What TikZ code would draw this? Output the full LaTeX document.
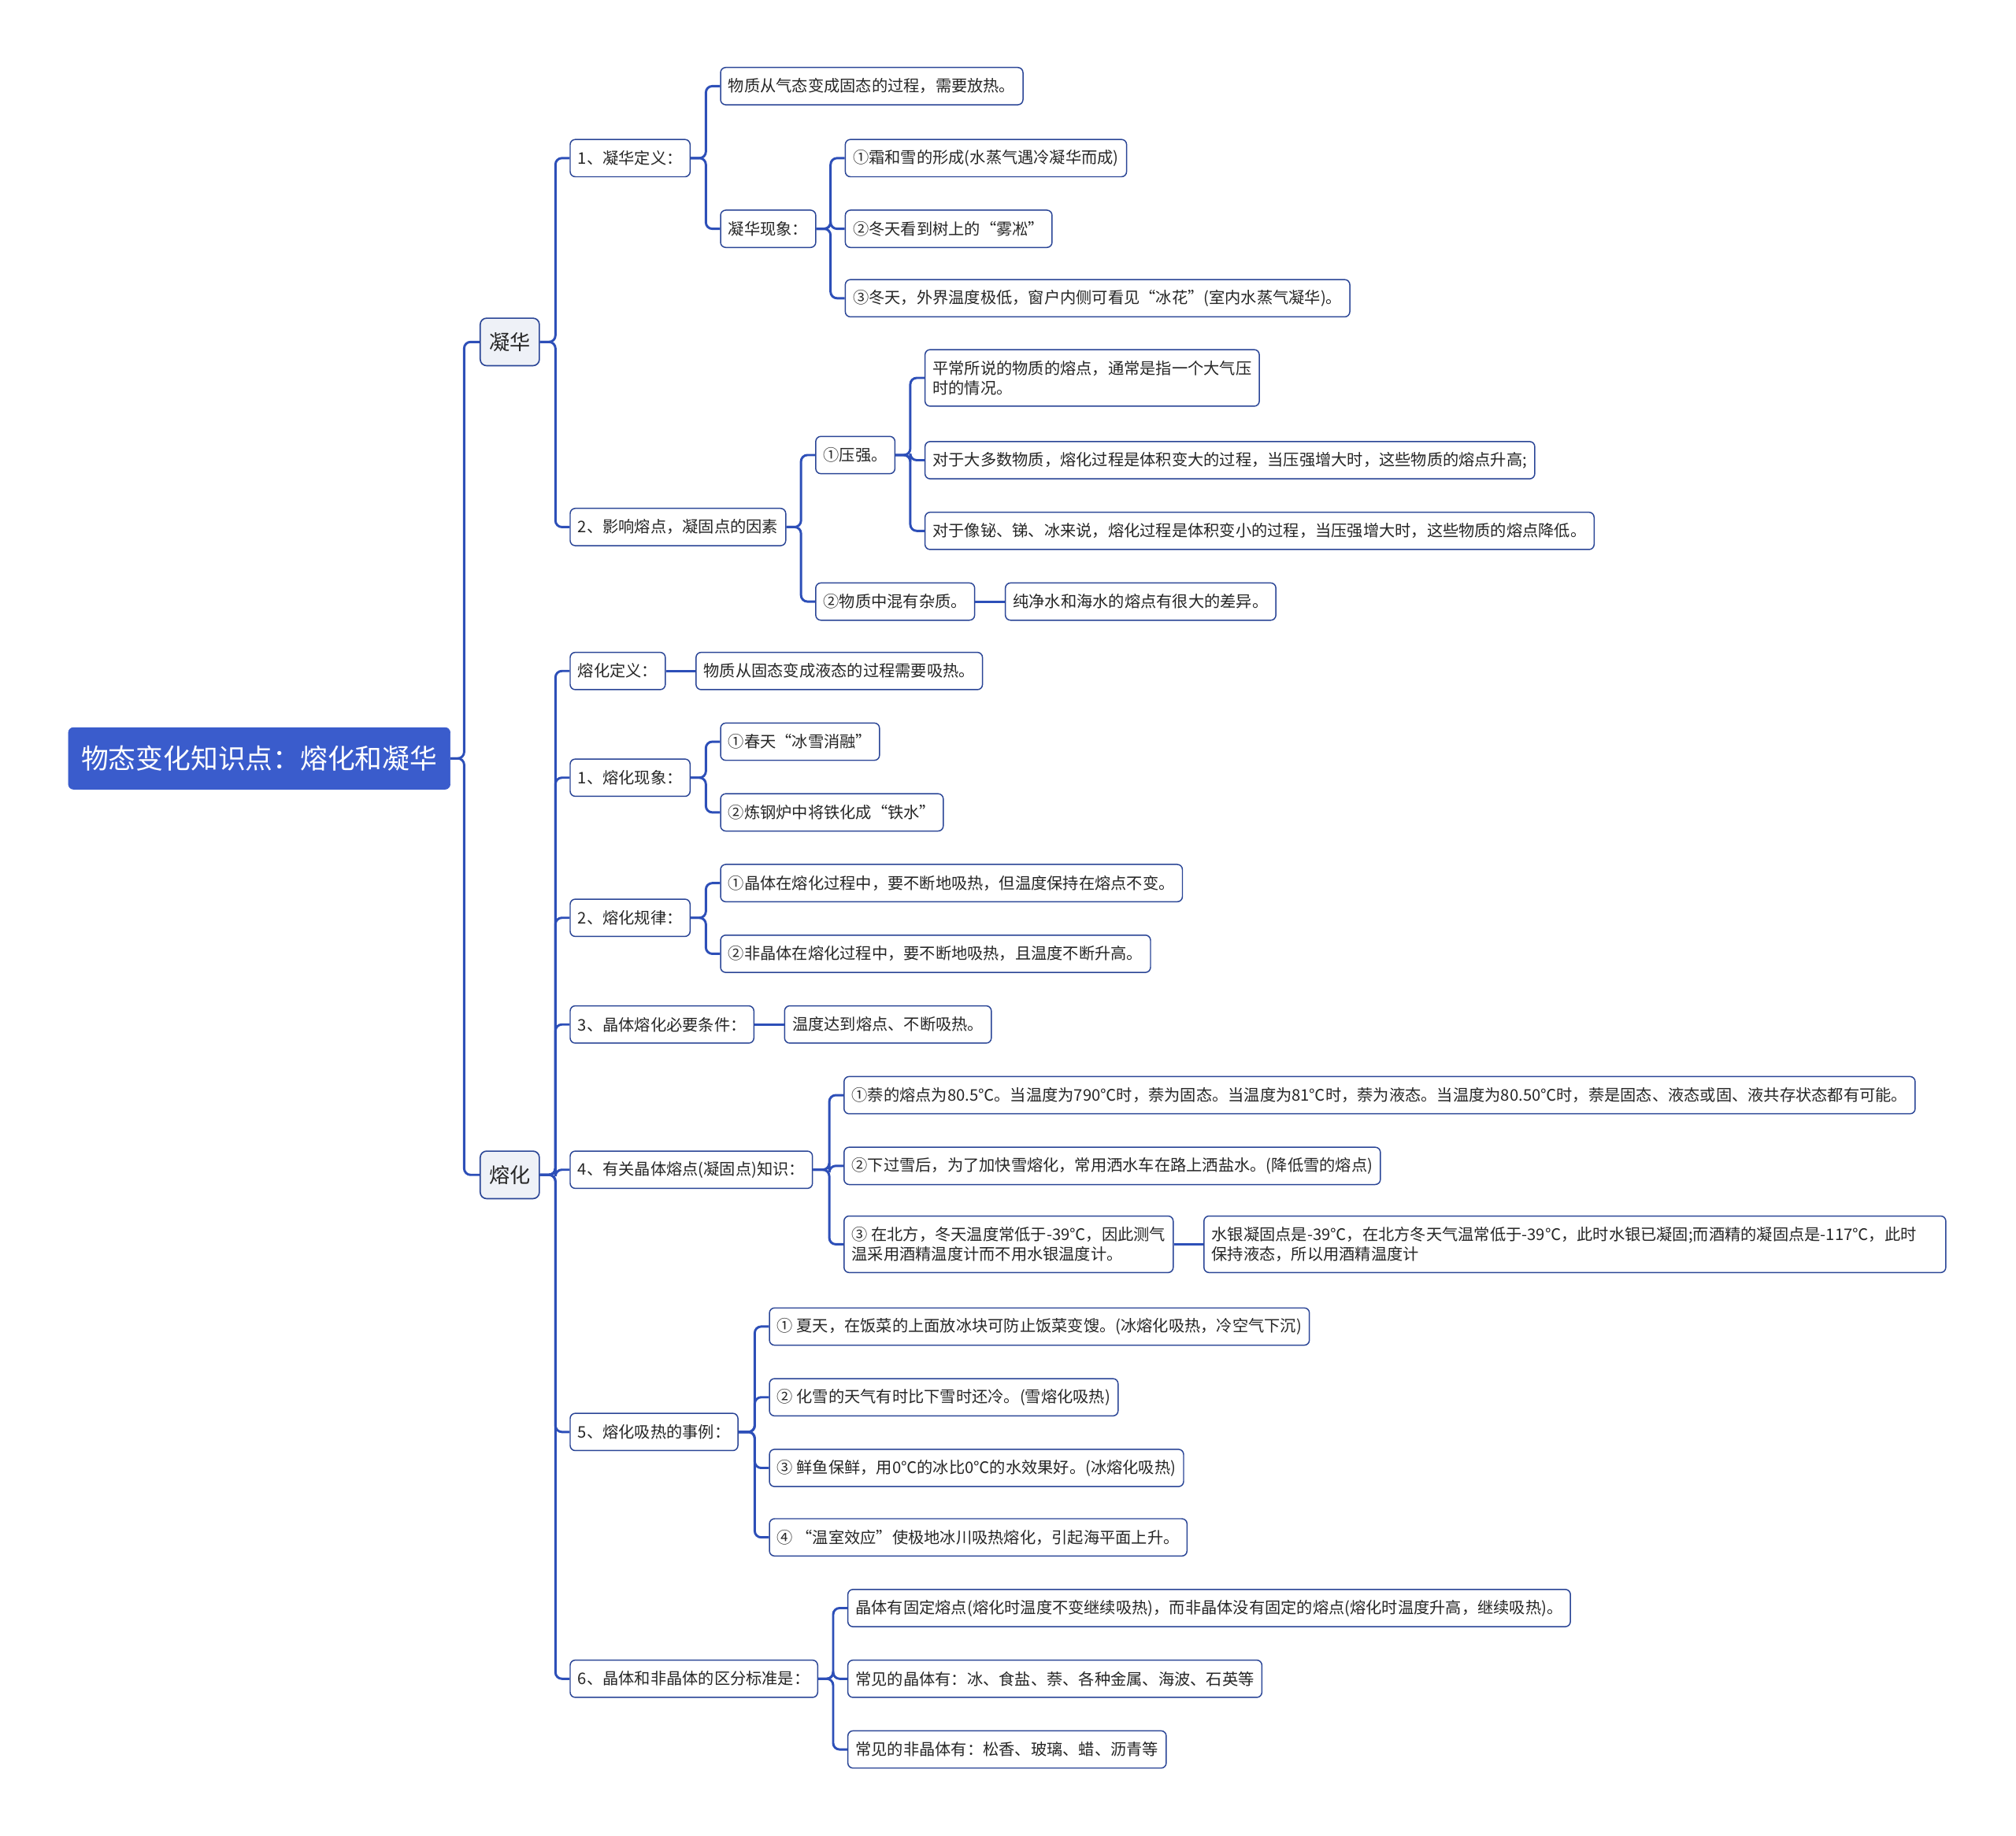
\documentclass[tikz,border=0pt]{standalone}
\usepackage{fontspec}
\usepackage{tikz}
\usetikzlibrary{positioning}
\newfontfamily\cjk{Noto Sans CJK SC}

\definecolor{rootblue}{HTML}{3A5CCC}
\definecolor{linkblue}{HTML}{2D4FB8}
\definecolor{boxline}{HTML}{2A4596}
\definecolor{topicfill}{HTML}{EEF1F7}

\begin{document}
\begin{tikzpicture}[
  x=1pt, y=1pt, node distance=23pt, text=black!85,
  root/.style={draw=rootblue, fill=rootblue, text=white, rounded corners=4pt, anchor=west,
    font=\cjk\fontsize{21.3}{25}\selectfont, minimum height=48pt, inner xsep=10pt},
  topic/.style={draw=boxline, fill=topicfill, line width=1pt, rounded corners=5pt, anchor=west,
    font=\cjk\fontsize{16}{19}\selectfont, minimum height=37pt, inner xsep=7pt},
  leaf/.style={draw=boxline, fill=white, line width=0.9pt, rounded corners=4pt, anchor=west, align=left,
    font=\cjk\fontsize{12.4}{15.5}\selectfont, minimum height=29pt, inner xsep=6pt},
  twoline/.style={leaf, minimum height=44pt},
  link/.style={draw=linkblue, line width=1.8pt, rounded corners=5pt}
]
  \useasboundingbox (0,0) rectangle (1568,-1428);

  % root and the two main branches
  \node[root] (root) at (53,-590) {物态变化知识点：熔化和凝华};
  \node[topic] (ninghua) at (373,-266) {凝华};
  \node[topic] (ronghua) at (373,-914) {熔化};

  % 凝华
  \node[leaf] (nhdef) at (443,-123) {1、凝华定义：};
  \node[leaf] (nhfactor) at (443,-410) {2、影响熔点，凝固点的因素};
  \node[leaf] (nhdeftext) at (560,-67) {物质从气态变成固态的过程，需要放热。};
  \node[leaf] (nhphen) at (560,-178) {凝华现象：};
  \node[leaf] (nhp1) at (657,-123) {①霜和雪的形成(水蒸气遇冷凝华而成)};
  \node[leaf] (nhp2) at (657,-178) {②冬天看到树上的“雾凇”};
  \node[leaf] (nhp3) at (657,-232) {③冬天，外界温度极低，窗户内侧可看见“冰花”(室内水蒸气凝华)。};
  \node[leaf] (press) at (634,-354) {①压强。};
  \node[leaf] (impur) at (634,-468) {②物质中混有杂质。};
  \node[twoline] (press1) at (719,-294) {平常所说的物质的熔点，通常是指一个大气压\\时的情况。};
  \node[leaf] (press2) at (719,-358) {对于大多数物质，熔化过程是体积变大的过程，当压强增大时，这些物质的熔点升高;};
  \node[leaf] (press3) at (719,-413) {对于像铋、锑、冰来说，熔化过程是体积变小的过程，当压强增大时，这些物质的熔点降低。};
  \node[leaf, right=of impur] (impur1) {纯净水和海水的熔点有很大的差异。};

  % 熔化
  \node[leaf] (rhdef) at (443,-522) {熔化定义：};
  \node[leaf, right=of rhdef] (rhdeftext) {物质从固态变成液态的过程需要吸热。};
  \node[leaf] (rhphen) at (443,-605) {1、熔化现象：};
  \node[leaf] (rhphen1) at (560,-577) {①春天“冰雪消融”};
  \node[leaf] (rhphen2) at (560,-632) {②炼钢炉中将铁化成“铁水”};
  \node[leaf] (rhlaw) at (443,-714) {2、熔化规律：};
  \node[leaf] (rhlaw1) at (560,-687) {①晶体在熔化过程中，要不断地吸热，但温度保持在熔点不变。};
  \node[leaf] (rhlaw2) at (560,-742) {②非晶体在熔化过程中，要不断地吸热，且温度不断升高。};
  \node[leaf] (rhcond) at (443,-797) {3、晶体熔化必要条件：};
  \node[leaf, right=of rhcond] (rhcondtext) {温度达到熔点、不断吸热。};
  \node[leaf] (rhpt) at (443,-910) {4、有关晶体熔点(凝固点)知识：};
  \node[leaf] (rhpt1) at (656,-852) {①萘的熔点为80.5℃。当温度为790℃时，萘为固态。当温度为81℃时，萘为液态。当温度为80.50℃时，萘是固态、液态或固、液共存状态都有可能。};
  \node[leaf] (rhpt2) at (656,-907) {②下过雪后，为了加快雪熔化，常用洒水车在路上洒盐水。(降低雪的熔点)};
  \node[twoline] (rhpt3) at (656,-968) {③ 在北方，冬天温度常低于-39℃，因此测气\\温采用酒精温度计而不用水银温度计。};
  \node[twoline, right=of rhpt3, text width=565pt] (rhpt3b) {水银凝固点是-39℃，在北方冬天气温常低于-39℃，此时水银已凝固;而酒精的凝固点是-117℃，此时\\保持液态，所以用酒精温度计};
  \node[leaf] (rhheat) at (443,-1114) {5、熔化吸热的事例：};
  \node[leaf] (rhheat1) at (598,-1032) {① 夏天，在饭菜的上面放冰块可防止饭菜变馊。(冰熔化吸热，冷空气下沉)};
  \node[leaf] (rhheat2) at (598,-1087) {② 化雪的天气有时比下雪时还冷。(雪熔化吸热)};
  \node[leaf] (rhheat3) at (598,-1142) {③ 鲜鱼保鲜，用0℃的冰比0℃的水效果好。(冰熔化吸热)};
  \node[leaf] (rhheat4) at (598,-1196) {④ “温室效应”使极地冰川吸热熔化，引起海平面上升。};
  \node[leaf] (rhcrys) at (443,-1306) {6、晶体和非晶体的区分标准是：};
  \node[leaf] (rhcrys1) at (659,-1251) {晶体有固定熔点(熔化时温度不变继续吸热)，而非晶体没有固定的熔点(熔化时温度升高，继续吸热)。};
  \node[leaf] (rhcrys2) at (659,-1306) {常见的晶体有：冰、食盐、萘、各种金属、海波、石英等};
  \node[leaf] (rhcrys3) at (659,-1361) {常见的非晶体有：松香、玻璃、蜡、沥青等};

  % connectors
  \draw[link] (root.east) -| ([xshift=-12pt]ninghua.west) -- (ninghua.west);
  \draw[link] (root.east) -| ([xshift=-12pt]ronghua.west) -- (ronghua.west);
  \draw[link] (ninghua.east) -| ([xshift=-11pt]nhdef.west) -- (nhdef.west);
  \draw[link] (ninghua.east) -| ([xshift=-11pt]nhfactor.west) -- (nhfactor.west);
  \draw[link] (nhdef.east) -| ([xshift=-11pt]nhdeftext.west) -- (nhdeftext.west);
  \draw[link] (nhdef.east) -| ([xshift=-11pt]nhphen.west) -- (nhphen.west);
  \draw[link] (nhphen.east) -| ([xshift=-11pt]nhp1.west) -- (nhp1.west);
  \draw[link] (nhphen.east) -| ([xshift=-11pt]nhp2.west) -- (nhp2.west);
  \draw[link] (nhphen.east) -| ([xshift=-11pt]nhp3.west) -- (nhp3.west);
  \draw[link] (nhfactor.east) -| ([xshift=-11pt]press.west) -- (press.west);
  \draw[link] (nhfactor.east) -| ([xshift=-11pt]impur.west) -- (impur.west);
  \draw[link] (press.east) -| ([xshift=-11pt]press1.west) -- (press1.west);
  \draw[link] (press.east) -| ([xshift=-11pt]press2.west) -- (press2.west);
  \draw[link] (press.east) -| ([xshift=-11pt]press3.west) -- (press3.west);
  \draw[link] (impur) -- (impur1);
  \draw[link] (ronghua.east) -| ([xshift=-11pt]rhdef.west) -- (rhdef.west);
  \draw[link] (ronghua.east) -| ([xshift=-11pt]rhphen.west) -- (rhphen.west);
  \draw[link] (ronghua.east) -| ([xshift=-11pt]rhlaw.west) -- (rhlaw.west);
  \draw[link] (ronghua.east) -| ([xshift=-11pt]rhcond.west) -- (rhcond.west);
  \draw[link] (ronghua.east) -| ([xshift=-11pt]rhpt.west) -- (rhpt.west);
  \draw[link] (ronghua.east) -| ([xshift=-11pt]rhheat.west) -- (rhheat.west);
  \draw[link] (ronghua.east) -| ([xshift=-11pt]rhcrys.west) -- (rhcrys.west);
  \draw[link] (rhdef) -- (rhdeftext);
  \draw[link] (rhphen.east) -| ([xshift=-11pt]rhphen1.west) -- (rhphen1.west);
  \draw[link] (rhphen.east) -| ([xshift=-11pt]rhphen2.west) -- (rhphen2.west);
  \draw[link] (rhlaw.east) -| ([xshift=-11pt]rhlaw1.west) -- (rhlaw1.west);
  \draw[link] (rhlaw.east) -| ([xshift=-11pt]rhlaw2.west) -- (rhlaw2.west);
  \draw[link] (rhcond) -- (rhcondtext);
  \draw[link] (rhpt.east) -| ([xshift=-11pt]rhpt1.west) -- (rhpt1.west);
  \draw[link] (rhpt.east) -| ([xshift=-11pt]rhpt2.west) -- (rhpt2.west);
  \draw[link] (rhpt.east) -| ([xshift=-11pt]rhpt3.west) -- (rhpt3.west);
  \draw[link] (rhpt3) -- (rhpt3b);
  \draw[link] (rhheat.east) -| ([xshift=-11pt]rhheat1.west) -- (rhheat1.west);
  \draw[link] (rhheat.east) -| ([xshift=-11pt]rhheat2.west) -- (rhheat2.west);
  \draw[link] (rhheat.east) -| ([xshift=-11pt]rhheat3.west) -- (rhheat3.west);
  \draw[link] (rhheat.east) -| ([xshift=-11pt]rhheat4.west) -- (rhheat4.west);
  \draw[link] (rhcrys.east) -| ([xshift=-11pt]rhcrys1.west) -- (rhcrys1.west);
  \draw[link] (rhcrys.east) -| ([xshift=-11pt]rhcrys2.west) -- (rhcrys2.west);
  \draw[link] (rhcrys.east) -| ([xshift=-11pt]rhcrys3.west) -- (rhcrys3.west);
\end{tikzpicture}
\end{document}
